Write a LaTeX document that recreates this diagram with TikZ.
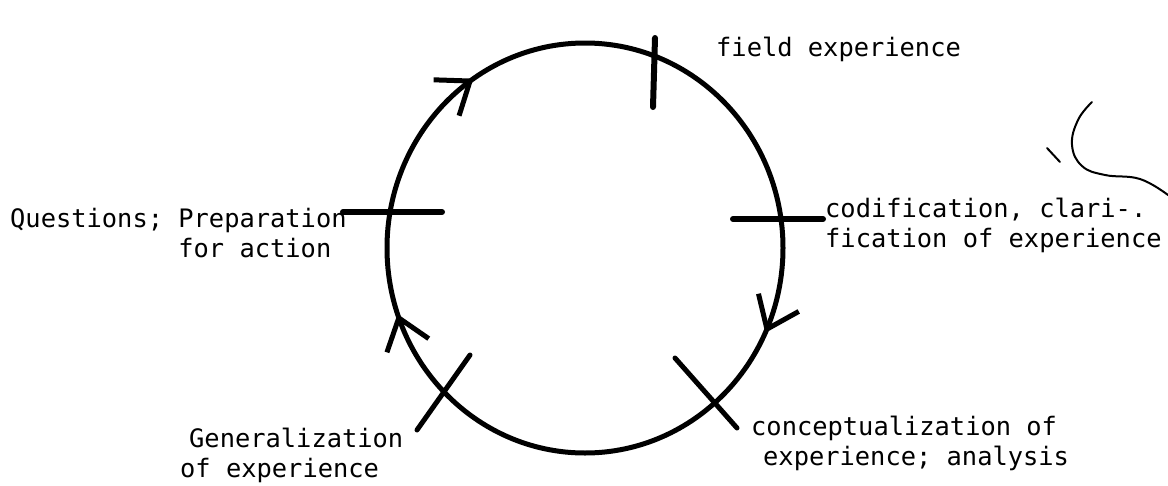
\documentclass[tikz,border=0pt]{standalone}
\usepackage{fontspec}
\setmonofont{DejaVu Sans Mono}
\usetikzlibrary{arrows.meta,decorations.markings}

\begin{document}
\begin{tikzpicture}[x=1pt, y=-1pt,
  lbl/.style={font=\ttfamily\fontsize{25.4}{29.5}\selectfont, align=left, inner sep=0pt, anchor=base west},
  ring/.style={line width=5pt},
  tick/.style={line width=6pt, line cap=round},
  cross/.style={line width=5pt, line cap=round},
  scrawl/.style={line width=2pt, line cap=round},
  barb/.tip={Straight Barb[length=29pt, width=44pt]}]
\useasboundingbox (0,0) rectangle (1168,485);
% the cycle, clockwise
\coordinate (c) at (585,248);
\draw[ring, postaction={decorate}, decoration={markings,
    mark=at position 0.069 with {\arrow{barb}},
    mark=at position 0.447 with {\arrow{barb}},
    mark=at position 0.656 with {\arrow{barb}}}]
  (c) ellipse [x radius=198, y radius=205];
% stages (base = last line)
\node[lbl] (field) at (716,56) {field experience};
\node[lbl] (codif) at (825,247) {codification, clari-.\\fication of experience};
\node[lbl] (concept) at (751,465) {conceptualization of\\\hspace*{12pt}experience; analysis};
\node[lbl] (gen) at (180,477) {\hspace*{9pt}Generalization\\of experience};
\node[lbl] (quest) at (10,257) {Questions; Preparation\\\phantom{Questions; }for action};
% marks on the cycle
\draw[tick] (655,38) -- (653,107);
\draw[tick] (733,219) -- (823,219);
\draw[tick] (343,212) -- (442,212);
\draw[cross] (675,358) -- (737,428);
\draw[cross] (470,355) -- (417,430);
% pen marks top right
\draw[scrawl] plot[smooth, tension=0.7] coordinates {(1092,102) (1078,120) (1072,145) (1082,166) (1105,175) (1140,179) (1168,195)};
\draw[scrawl] (1047,148) -- (1060,162);
\end{tikzpicture}
\end{document}
